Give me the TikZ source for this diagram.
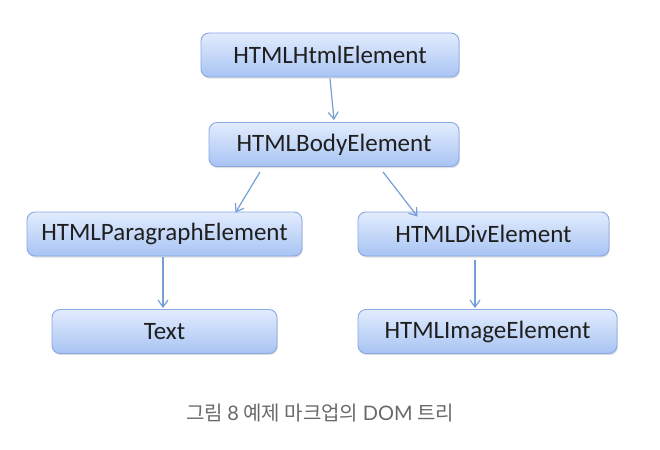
\documentclass[tikz,border=0pt]{standalone}
\usepackage{fontspec}
\setmainfont{Carlito}
\newfontfamily\capfont{Lato}
\newfontfamily\krfont{Noto Sans CJK KR}
\usetikzlibrary{shadows,arrows.meta}

\definecolor{boxtop}{RGB}{226,236,253}
\definecolor{boxbottom}{RGB}{168,196,244}
\definecolor{boxline}{RGB}{138,168,226}
\definecolor{linkblue}{RGB}{118,158,214}
\definecolor{captiongray}{RGB}{105,105,105}

\tikzset{
  domnode/.style={draw=boxline, line width=0.9pt, rounded corners=8pt,
    top color=boxtop, bottom color=boxbottom,
    drop shadow={shadow xshift=0.8pt, shadow yshift=-1.6pt, opacity=0.25},
    minimum height=44pt, inner sep=0pt,
    font=\fontsize{25}{29}\selectfont, text=black!88},
  link/.style={-{Straight Barb[length=7pt,width=10pt]}, linkblue, line width=1.2pt}
}

\begin{document}
\begin{tikzpicture}[x=1pt, y=-1pt]

  % --- Marco ---
  \useasboundingbox (0,0) rectangle (660,449);

  % --- Nodos ---
  \node[domnode, minimum width=258pt] (html) at (330,55)   {HTMLHtmlElement};
  \node[domnode, minimum width=250pt] (body) at (334,144.5) {HTMLBodyElement};
  \node[domnode, minimum width=275pt] (para) at (164.5,234) {HTMLParagraphElement};
  \node[domnode, minimum width=251pt] (div)  at (483.5,234) {HTMLDivElement};
  \node[domnode, minimum width=225pt] (text) at (164.5,331.5) {Text};
  \node[domnode, minimum width=259pt] (img)  at (487.5,331.5) {HTMLImageElement};

  % --- Flechas ---
  \draw[link] ([yshift=-1pt]html.south) -- ([xshift=0pt,yshift=2pt]body.north);
  \draw[link] ([xshift=-74pt,yshift=-5pt]body.south) -- ([xshift=71pt,yshift=-1pt]para.north);
  \draw[link] ([xshift=49pt,yshift=-5pt]body.south) -- ([xshift=-66pt,yshift=-5pt]div.north);
  \draw[link] ([xshift=-1.5pt,yshift=-1pt]para.south) -- ([xshift=-1.5pt,yshift=1pt]text.north);
  \draw[link] ([xshift=-8.5pt,yshift=-4pt]div.south) -- ([xshift=-12.5pt,yshift=1pt]img.north);

  % --- Pie ---
  \node[captiongray, font=\fontsize{20}{24}\selectfont] (caption) at (320,413)
    {{\krfont 그림} {\capfont 8} {\krfont 예제 마크업의} {\capfont DOM} {\krfont 트리}};

\end{tikzpicture}
\end{document}
